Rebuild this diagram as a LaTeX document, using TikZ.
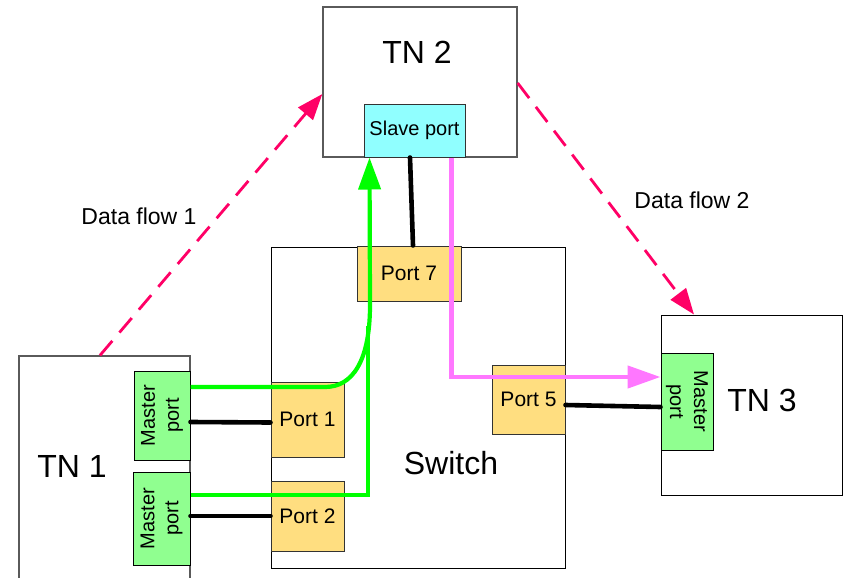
\documentclass[tikz,border=0pt]{standalone}
\usepackage{fontspec}
\setmainfont{Liberation Sans}
\usetikzlibrary{arrows.meta}
\definecolor{mgreen}{RGB}{144,255,144}
\definecolor{pyellow}{RGB}{255,222,128}
\definecolor{scyan}{RGB}{144,255,255}
\definecolor{gline}{RGB}{0,255,0}
\definecolor{pline}{RGB}{255,119,255}
\definecolor{dflow}{RGB}{255,0,102}
\definecolor{tngray}{RGB}{90,90,90}
\tikzset{
  tnbox/.style={draw=tngray, line width=1.3pt, fill=white, inner sep=0pt},
  swbox/.style={draw=black, line width=1pt, fill=white, inner sep=0pt},
  portbox/.style={draw=black!80, line width=1pt, fill=pyellow, inner sep=0pt, font=\fontsize{21}{24}\selectfont},
  mportbox/.style={draw=black, line width=1pt, fill=mgreen, inner sep=0pt},
  sportbox/.style={draw=black!80, line width=1pt, fill=scyan, inner sep=0pt, font=\fontsize{20}{24}\selectfont},
  mtext/.style={align=center, inner sep=0pt, font=\fontsize{20}{24}\selectfont},
  biglabel/.style={inner sep=0pt, font=\fontsize{32}{38}\selectfont},
  flowlabel/.style={inner sep=0pt, font=\fontsize{23}{26}\selectfont},
  greenline/.style={draw=gline, line width=4.2pt},
  pinkline/.style={draw=pline, line width=4.5pt},
  blackline/.style={draw=black, line width=4.6pt, line cap=round},
  flowline/.style={draw=dflow, line width=2.8pt, dash pattern=on 19pt off 11pt, -{Triangle[length=26pt,width=19pt]}},
}
\begin{document}
\begin{tikzpicture}[x=1pt, y=-1pt]
\useasboundingbox (0,0) rectangle (843,578);
\clip (0,0) rectangle (843,578);
% TN boxes
\node[tnbox, minimum width=171pt, minimum height=250pt] (tn1) at (104.5,481) {};
\node[biglabel] (tn1l) at (72,466) {TN 1};
\node[swbox, minimum width=294pt, minimum height=321pt] (sw) at (418,407.5) {};
\node[biglabel] (swl) at (451,463) {Switch};
\node[tnbox, minimum width=194pt, minimum height=150pt] (tn2) at (420,82) {};
\node[biglabel] (tn2l) at (417,52) {TN 2};
\node[swbox, minimum width=181pt, minimum height=180pt] (tn3) at (751.5,405) {};
\node[biglabel] (tn3l) at (762,400) {TN 3};
% ports
\node[mportbox, minimum width=56pt, minimum height=89pt] (m1) at (162,415.5) {};
\node[mtext, rotate=90] (m1t) at (m1) {Master\\port};
\node[mportbox, minimum width=57pt, minimum height=93pt] (m2) at (161.5,518.5) {};
\node[mtext, rotate=90] (m2t) at (m2) {Master\\port};
\node[mportbox, minimum width=52pt, minimum height=97pt] (m3) at (687,401.5) {};
\node[mtext, rotate=-90] (m3t) at (m3) {Master\\port};
\node[portbox, minimum width=73pt, minimum height=75pt] (p1) at (307.5,419.5) {Port 1};
\node[portbox, minimum width=73pt, minimum height=70pt] (p2) at (307.5,516) {Port 2};
\node[portbox, minimum width=104pt, minimum height=55pt] (p7) at (409,273.5) {Port 7};
\node[portbox, minimum width=73pt, minimum height=69pt] (p5) at (528.5,399.5) {Port 5};
\node[sportbox, minimum width=101pt, minimum height=53pt] (sp) at (414.5,130.5) {Slave port};
% black links
\draw[blackline] ([yshift=-6.5pt]m1.east) -- ([yshift=-3pt]p1.west);
\draw[blackline] (m2.east |- p2.west) -- (p2.west);
\draw[blackline] ([yshift=-5.5pt]p5.east) -- ([yshift=-5.5pt]m3.west);
\draw[blackline] ([xshift=-4.5pt]sp.south) -- ([xshift=4pt]p7.north);
% green paths
\coordinate (g1) at (325,387);
\coordinate (g2) at (370,305);
\coordinate (g3) at (368,495);
\coordinate (g4) at (368,326);
\draw[greenline] ([yshift=23.5pt]m2.east) -- (g3) -- (g4);
\draw[greenline, -{Triangle[length=32pt,width=22pt]}] ([yshift=28.5pt]m1.east) -- (g1) .. controls (352,387) and (370,362) .. (g2) -- ([xshift=6pt]sp.south west);
% pink path
\draw[pinkline, -{Triangle[length=33pt,width=22pt]}] ([xshift=-14pt]sp.south east) |- ([yshift=24.5pt]m3.west);
% data flows
\draw[flowline] ([xshift=-4.5pt]tn1.north) -- ([yshift=-12pt]tn2.west);
\draw[flowline] ([yshift=-1pt]tn2.east) -- ([xshift=-57.5pt]tn3.north);
\node[flowlabel] (df1) at (139,216) {Data flow 1};
\node[flowlabel] (df2) at (692,200) {Data flow 2};
\end{tikzpicture}
\end{document}
